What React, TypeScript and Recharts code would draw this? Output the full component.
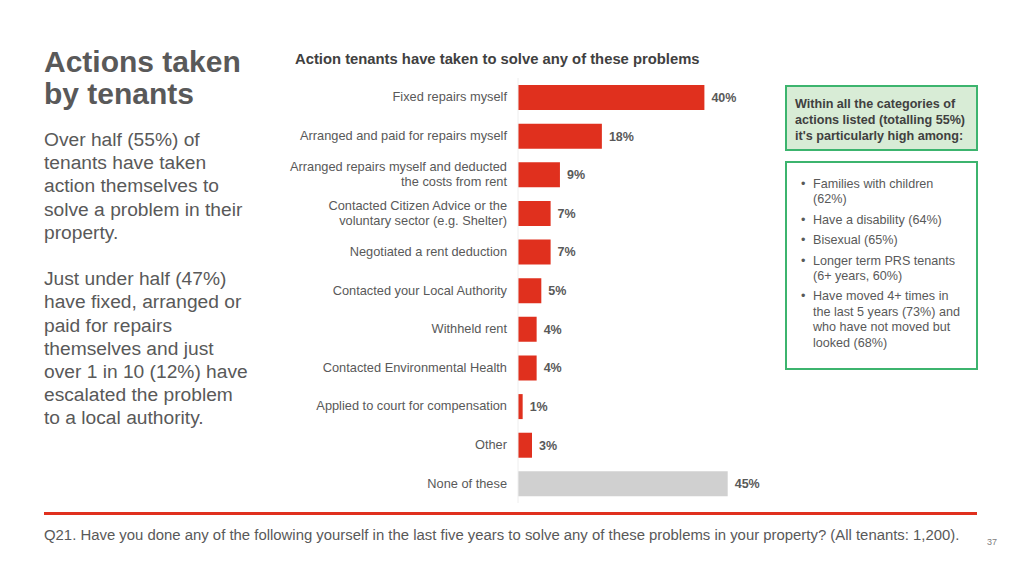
import { BarChart, Bar, XAxis, YAxis, LabelList, Cell } from "recharts";

const categories = [
  "Fixed repairs myself",
  "Arranged and paid for repairs myself",
  "Arranged repairs myself and deducted|the costs from rent",
  "Contacted Citizen Advice or the|voluntary sector (e.g. Shelter)",
  "Negotiated a rent deduction",
  "Contacted your Local Authority",
  "Withheld rent",
  "Contacted Environmental Health",
  "Applied to court for compensation",
  "Other",
  "None of these",
];
const values = [40, 18, 9, 7, 7, 5, 4, 4, 1, 3, 45];

const highlights = [
  ["Families with children", "(62%)"],
  ["Have a disability (64%)"],
  ["Bisexual (65%)"],
  ["Longer term PRS tenants", "(6+ years, 60%)"],
  ["Have moved 4+ times in", "the last 5 years (73%) and", "who have not moved but", "looked (68%)"],
];

const data = categories.map((name, i) => ({ name, value: values[i] }));

const RED = "#e0301e";
const GREY = "#d0d0d0";
const TEXT = "#595959";
const GREEN = "#3cb46e";

const CategoryTick = (props: any) => {
  const { x, y, payload } = props;
  const lines = String(payload.value).split("|");
  const start = -((lines.length - 1) * 15) / 2;
  return (
    <text x={x - 3} y={y} textAnchor="end" fill={TEXT} fontSize={12.8}>
      {lines.map((l: string, i: number) => (
        <tspan key={i} x={x - 3} dy={i === 0 ? start + 4 : 15}>
          {l}
        </tspan>
      ))}
    </text>
  );
};

export default function App() {
  return (
    <div
      style={{
        position: "relative",
        width: 1024,
        height: 576,
        margin: -8,
        background: "#fff",
        fontFamily: "Liberation Sans, Arial, sans-serif",
        overflow: "hidden",
      }}
    >
      <div
        style={{
          position: "absolute",
          left: 44,
          top: 46,
          fontSize: 30,
          fontWeight: "bold",
          lineHeight: "32px",
          color: TEXT,
        }}
      >
        Actions taken
        <br />
        by tenants
      </div>
      <div
        style={{
          position: "absolute",
          left: 44,
          top: 128,
          fontSize: 19.2,
          lineHeight: "23.2px",
          color: TEXT,
        }}
      >
        Over half (55%) of
        <br />
        tenants have taken
        <br />
        action themselves to
        <br />
        solve a problem in their
        <br />
        property.
        <br />
        <br />
        Just under half (47%)
        <br />
        have fixed, arranged or
        <br />
        paid for repairs
        <br />
        themselves and just
        <br />
        over 1 in 10 (12%) have
        <br />
        escalated the problem
        <br />
        to a local authority.
      </div>

      <div
        style={{
          position: "absolute",
          left: 295,
          top: 51,
          fontSize: 14.8,
          fontWeight: "bold",
          color: "#404040",
        }}
      >
        Action tenants have taken to solve any of these problems
      </div>

      <div style={{ position: "absolute", left: 280, top: 78 }}>
        <BarChart
          layout="vertical"
          width={531}
          height={425}
          data={data}
          margin={{ top: 0, right: 60, bottom: 0, left: 0 }}
          barCategoryGap={13}
        >
          <XAxis type="number" domain={[0, 50]} hide />
          <YAxis
            type="category"
            dataKey="name"
            width={238}
            axisLine={{ stroke: "#eeeeee" }}
            tickLine={false}
            tick={<CategoryTick />}
            interval={0}
          />
          <Bar dataKey="value" isAnimationActive={false} barSize={25}>
            {data.map((d, i) => (
              <Cell key={i} fill={i === data.length - 1 ? GREY : RED} />
            ))}
            <LabelList
              dataKey="value"
              position="right"
              offset={7}
              formatter={(v: any) => `${v}%`}
              style={{ fill: TEXT, fontSize: 12.5, fontWeight: "bold" }}
            />
          </Bar>
        </BarChart>
      </div>

      <div
        style={{
          position: "absolute",
          left: 785,
          top: 85,
          width: 189,
          height: 62,
          border: `2px solid ${GREEN}`,
          background: "#d8ecd6",
        }}
      >
        <div
          style={{
            padding: "9px 0 0 8px",
            fontSize: 12.6,
            fontWeight: "bold",
            lineHeight: "16px",
            color: "#404040",
          }}
        >
          Within all the categories of
          <br />
          actions listed (totalling 55%)
          <br />
          it's particularly high among:
        </div>
      </div>

      <div
        style={{
          position: "absolute",
          left: 785,
          top: 161,
          width: 189,
          height: 205,
          border: `2px solid ${GREEN}`,
          background: "#fff",
        }}
      >
        <div style={{ paddingTop: 14 }}>
          {highlights.map((lines, i) => (
            <div
              key={i}
              style={{
                position: "relative",
                paddingLeft: 26,
                marginBottom: 5,
                fontSize: 12.6,
                lineHeight: "15.4px",
                color: TEXT,
              }}
            >
              <span style={{ position: "absolute", left: 14 }}>•</span>
              {lines.map((l, j) => (
                <div key={j}>{l}</div>
              ))}
            </div>
          ))}
        </div>
      </div>

      <div
        style={{
          position: "absolute",
          left: 44,
          top: 512,
          width: 933,
          height: 3,
          background: RED,
        }}
      />
      <div
        style={{
          position: "absolute",
          left: 44,
          top: 527,
          fontSize: 14.9,
          color: TEXT,
          whiteSpace: "nowrap",
        }}
      >
        Q21. Have you done any of the following yourself in the last five years to solve any of these problems in your property? (All tenants: 1,200).
      </div>
      <div
        style={{
          position: "absolute",
          left: 987,
          top: 537,
          fontSize: 9,
          color: "#808080",
        }}
      >
        37
      </div>
    </div>
  );
}
